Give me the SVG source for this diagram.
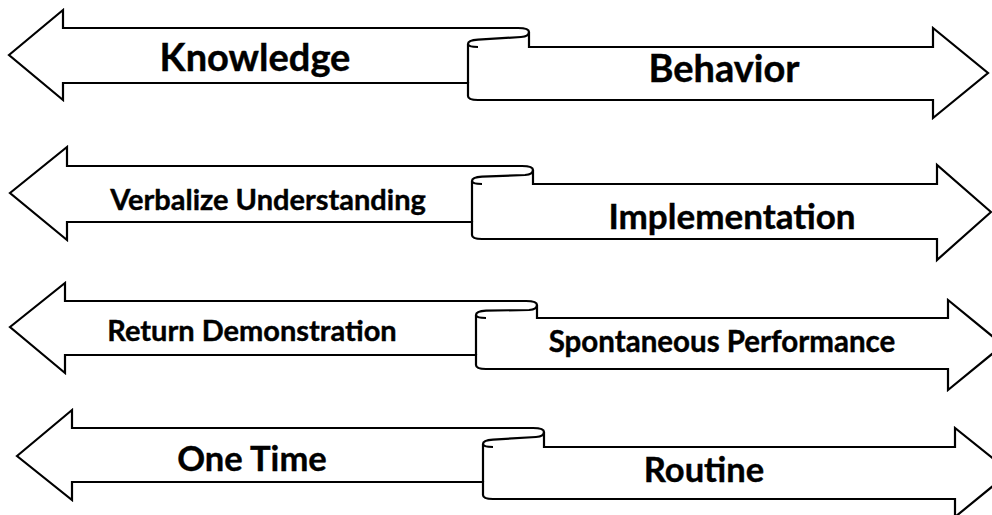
<svg xmlns="http://www.w3.org/2000/svg" width="992" height="515" viewBox="0 0 992 515">
<style>
.body{fill:#fff;stroke:#000;stroke-width:2.2;stroke-linejoin:miter}
.line{fill:none;stroke:#000;stroke-width:2.2}
.lbl{font-family:Lato,"Open Sans",sans-serif;font-weight:bold;fill:#000;stroke:#000;stroke-width:0.4;text-anchor:middle}
</style>
<rect width="992" height="515" fill="#fff"/>
<g id="arrow1">
<path class="body" d="M 9,55 L 63,10 L 63,28 L 518,28 C 525,28 529,29.5 529,32 L 529,47 L 933,47 L 933,28 L 988,73 L 933,118 L 933,100 L 478,100 C 471,100 468,98.5 468,96 L 468,83 L 63,83 L 63,100 Z"/>
<path class="line" d="M 468,83 L 468,44 C 468,41 471,40 478,39.6 L 521,37 C 526,36.7 529,35 529,32"/>
<path class="line" d="M 468,44 C 468,46 471,47 478,47"/>
<text class="lbl" x="255" y="71" font-size="38">Knowledge</text>
<text class="lbl" x="724" y="82" font-size="38">Behavior</text>
</g>
<g id="arrow2">
<path class="body" d="M 10,193 L 67,147 L 67,166 L 522,166 C 529,166 533,167.5 533,170 L 533,184 L 937,184 L 937,165 L 991,212 L 937,260 L 937,239 L 482,239 C 475,239 472,237.5 472,235 L 472,222 L 67,222 L 67,240 Z"/>
<path class="line" d="M 472,222 L 472,181 C 472,178 475,177 482,176.6 L 525,175 C 530,174.7 533,173 533,170"/>
<path class="line" d="M 472,181 C 472,183 475,184 482,184"/>
<text class="lbl" x="268" y="210" font-size="29">Verbalize Understanding</text>
<text class="lbl" x="732" y="229" font-size="35">Implementation</text>
</g>
<g id="arrow3">
<path class="body" d="M 10,327 L 65,283 L 65,301 L 526,301 C 533,301 537,302.5 537,305 L 537,318 L 948,318 L 948,300 L 1003,345 L 948,390 L 948,369 L 486,369 C 479,369 476,367.5 476,365 L 476,355 L 65,355 L 65,373 Z"/>
<path class="line" d="M 476,355 L 476,315 C 476,312 479,311 486,310.6 L 529,310 C 534,309.7 537,308 537,305"/>
<path class="line" d="M 476,315 C 476,317 479,318 486,318"/>
<text class="lbl" x="252" y="341" font-size="29">Return Demonstration</text>
<text class="lbl" x="722" y="352" font-size="29.5">Spontaneous Performance</text>
</g>
<g id="arrow4">
<path class="body" d="M 17,456 L 72,410 L 72,428 L 533,428 C 540,428 544,429.5 544,432 L 544,447 L 955,447 L 955,428 L 1010,472 L 955,517 L 955,499 L 493,499 C 486,499 483,497.5 483,495 L 483,482 L 72,482 L 72,500 Z"/>
<path class="line" d="M 483,482 L 483,444 C 483,441 486,440 493,439.6 L 536,437 C 541,436.7 544,435 544,432"/>
<path class="line" d="M 483,444 C 483,446 486,447 493,447"/>
<text class="lbl" x="252" y="471" font-size="34.5">One Time</text>
<text class="lbl" x="704" y="482" font-size="34.5">Routine</text>
</g>
</svg>
